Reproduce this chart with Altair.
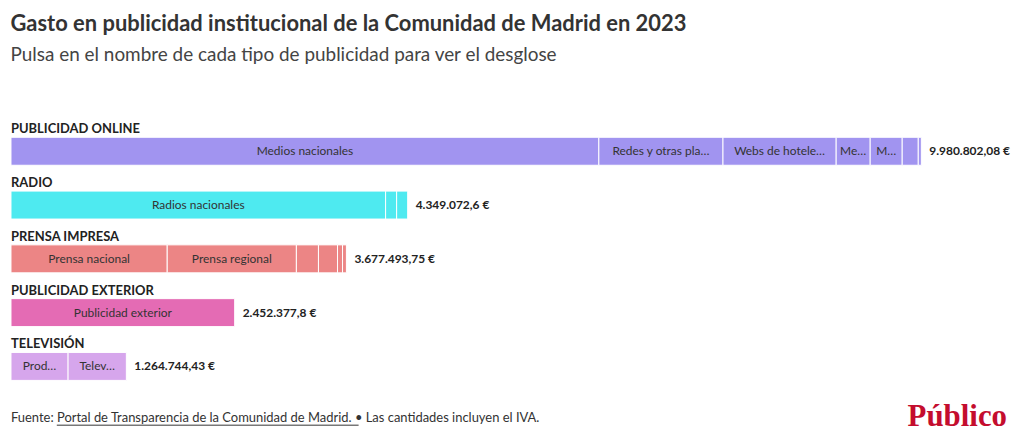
import altair as alt
import pandas as pd

categories = ["PUBLICIDAD ONLINE", "RADIO", "PRENSA IMPRESA", "PUBLICIDAD EXTERIOR", "TELEVISIÓN"]
colors = ["#a194f0", "#4eeaf0", "#ec8585", "#e46bb4", "#d6a6ec"]

online_names = ["Medios nacionales", "Redes y otras plataformas", "Webs de hoteles y viajes",
                "Medios regionales", "Medios locales", "Otros medios", "Otros"]
online_labels = ["Medios nacionales", "Redes y otras pla…", "Webs de hotele…", "Me…", "M…", "", ""]
online_values = [6445000, 1361000, 1241000, 373000, 351000, 176000, 33802.08]

radio_names = ["Radios nacionales", "Radios regionales", "Radios locales"]
radio_labels = ["Radios nacionales", "", ""]
radio_values = [4107072.6, 121000, 121000]

prensa_names = ["Prensa nacional", "Prensa regional", "Prensa local", "Revistas", "Prensa gratuita", "Otros"]
prensa_labels = ["Prensa nacional", "Prensa regional", "", "", "", ""]
prensa_values = [1713000, 1416000, 242000, 209000, 55000, 42493.75]

exterior_names = ["Publicidad exterior"]
exterior_labels = ["Publicidad exterior"]
exterior_values = [2452377.8]

tv_names = ["Producción", "Televisión"]
tv_labels = ["Prod…", "Telev…"]
tv_values = [626000, 638744.43]

groups = [
    (categories[0], online_names, online_labels, online_values),
    (categories[1], radio_names, radio_labels, radio_values),
    (categories[2], prensa_names, prensa_labels, prensa_values),
    (categories[3], exterior_names, exterior_labels, exterior_values),
    (categories[4], tv_names, tv_labels, tv_values),
]

rows = []
tot_rows = []
for cat, names, labels, values in groups:
    for i, (n, l, v) in enumerate(zip(names, labels, values)):
        rows.append({"cat": cat, "name": n, "label": l, "value": v, "idx": i})
    total = round(sum(values), 2)
    s = f"{total:,.2f}"
    ip, dp = s.split(".")
    dp = dp.rstrip("0")
    txt = ip.replace(",", ".") + ("," + dp if dp else "") + " €"
    tot_rows.append({"cat": cat, "total": total, "tlabel": txt})

df = pd.DataFrame(rows)
df_tot = pd.DataFrame(tot_rows)

FONT = "Lato"
XMAX = 10920000
xscale = alt.Scale(domain=[0, XMAX], nice=False, zero=True)
yscale = alt.Scale(domain=categories, paddingInner=0.48, paddingOuter=0.24)

base = alt.Chart(df)

bars = base.mark_bar(stroke="white", strokeWidth=1).encode(
    x=alt.X("value:Q", stack="zero", scale=xscale, axis=None),
    y=alt.Y("cat:N", sort=categories, scale=yscale, axis=None),
    color=alt.Color("cat:N", scale=alt.Scale(domain=categories, range=colors), legend=None),
    order=alt.Order("idx:Q"),
    tooltip=["name:N", "value:Q"],
)

inner = base.transform_stack(
    stack="value", groupby=["cat"], as_=["x0", "x1"], sort=[alt.SortField("idx")]
).transform_calculate(
    xm="(datum.x0 + datum.x1) / 2"
).mark_text(font=FONT, fontSize=12, color="#333333", baseline="middle", align="center").encode(
    x=alt.X("xm:Q", scale=xscale, axis=None),
    y=alt.Y("cat:N", sort=categories, scale=yscale, axis=None),
    text="label:N",
)

tot_base = alt.Chart(df_tot)

totals = tot_base.mark_text(font=FONT, fontSize=12, fontWeight="bold", color="#222222",
                            align="left", baseline="middle", dx=8).encode(
    x=alt.X("total:Q", scale=xscale, axis=None),
    y=alt.Y("cat:N", sort=categories, scale=yscale, axis=None),
    text="tlabel:N",
)

cat_labels = tot_base.mark_text(font=FONT, fontSize=13, fontWeight="bold", color="#222222",
                                align="left", baseline="alphabetic", dy=-4).encode(
    x=alt.value(0),
    y=alt.Y("cat:N", sort=categories, scale=yscale, axis=None, bandPosition=0),
    text="cat:N",
)

footer_text = "Fuente: Portal de Transparencia de la Comunidad de Madrid. • Las cantidades incluyen el IVA."
footer = alt.Chart(pd.DataFrame({"t": [footer_text]})).mark_text(
    font=FONT, fontSize=13, color="#333333", align="left", baseline="middle"
).encode(x=alt.value(0), y=alt.value(295), text="t:N")

underline = alt.Chart(pd.DataFrame({"t": [0]})).mark_rule(color="#333333", strokeWidth=1).encode(
    x=alt.value(46), x2=alt.value(349), y=alt.value(302)
)

logo = alt.Chart(pd.DataFrame({"t": ["Público"]})).mark_text(
    font="Liberation Serif", fontSize=31, fontWeight="bold", color="#c40d2e",
    align="right", baseline="middle"
).encode(x=alt.value(1000), y=alt.value(294), text="t:N")

chart = alt.layer(bars, inner, totals, cat_labels, footer, underline, logo).properties(
    width=1000,
    height=270,
    autosize="none",
    padding={"left": 3, "top": 116, "right": 5, "bottom": 40},
    title=alt.TitleParams(
        text="Gasto en publicidad institucional de la Comunidad de Madrid en 2023",
        subtitle="Pulsa en el nombre de cada tipo de publicidad para ver el desglose",
        anchor="start",
        font=FONT, fontSize=22, fontWeight="bold", color="#333333",
        subtitleFont=FONT, subtitleFontSize=19, subtitleColor="#444444",
        offset=58, subtitlePadding=10,
    ),
).configure_view(stroke=None)

chart.save("out.html", embed_options={"renderer": "svg", "actions": False})
